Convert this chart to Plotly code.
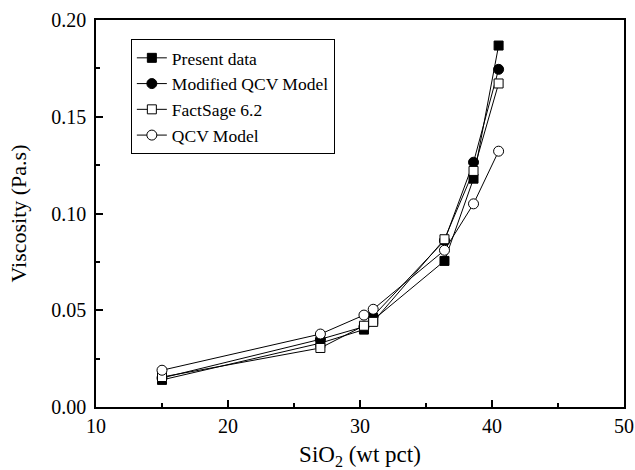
import plotly.graph_objects as go

sio2 = [15.0, 27.0, 30.3, 31.0, 36.4, 38.6, 40.5]
present_data = [0.0140, 0.0330, 0.0400, 0.0450, 0.0755, 0.1180, 0.1868]
modified_qcv = [0.0150, 0.0350, 0.0415, 0.0470, 0.0860, 0.1265, 0.1745]
factsage = [0.0155, 0.0305, 0.0420, 0.0440, 0.0867, 0.1220, 0.1672]
qcv_model = [0.0190, 0.0377, 0.0475, 0.0505, 0.0810, 0.1050, 0.1322]

series = [
    ("Present data", present_data, "square", False),
    ("Modified QCV Model", modified_qcv, "circle", False),
    ("FactSage 6.2", factsage, "square", True),
    ("QCV Model", qcv_model, "circle", True),
]

fig = go.Figure()
for name, vals, sym, open_m in series:
    fig.add_trace(go.Scatter(
        x=sio2, y=vals, name=name, mode="lines+markers",
        line=dict(color="black", width=1),
        marker=dict(symbol=sym, size=10 if sym == "circle" else 9,
                    color="white" if open_m else "black",
                    line=dict(color="black", width=1)),
    ))

font = "Liberation Serif, Times New Roman, serif"
fig.update_layout(
    width=635, height=470,
    margin=dict(l=96, r=11, t=20, b=63),
    paper_bgcolor="white", plot_bgcolor="white",
    font=dict(family=font, size=20, color="black"),
    showlegend=True,
    legend=dict(x=0.066, y=0.951, xanchor="left", yanchor="top",
                bordercolor="black", borderwidth=1, bgcolor="white",
                font=dict(family=font, size=17.5), tracegroupgap=0,
                itemwidth=30),
)
fig.update_xaxes(
    range=[10, 50], tickvals=[10, 20, 30, 40, 50],
    ticks="inside", ticklen=7, tickwidth=1.5, tickcolor="black",
    minor=dict(ticks="inside", ticklen=4, tickwidth=1.5, dtick=5, tickcolor="black"),
    showline=True, linecolor="black", linewidth=1.5, mirror=True,
    showgrid=False, zeroline=False, automargin=False,
    tickfont=dict(size=20, family=font), ticklabelstandoff=0,
    title=dict(text="SiO<sub>2</sub> (wt pct)", font=dict(size=23, family=font), standoff=10),
)
fig.update_yaxes(
    range=[0, 0.2], tickvals=[0, 0.05, 0.10, 0.15, 0.20], tickformat=".2f",
    ticks="inside", ticklen=7, tickwidth=1.5, tickcolor="black",
    minor=dict(ticks="inside", ticklen=4, tickwidth=1.5, dtick=0.025, tickcolor="black"),
    showline=True, linecolor="black", linewidth=1.5, mirror=True,
    showgrid=False, zeroline=False, automargin=False,
    tickfont=dict(size=20, family=font), ticklabelstandoff=4,
    title=dict(text="Viscosity (Pa.s)", font=dict(size=22, family=font), standoff=19),
)
fig.write_html(
    "out.html",
    config={"displayModeBar": False},
    post_script="document.body.style.margin='0';document.body.style.overflow='hidden';",
)
